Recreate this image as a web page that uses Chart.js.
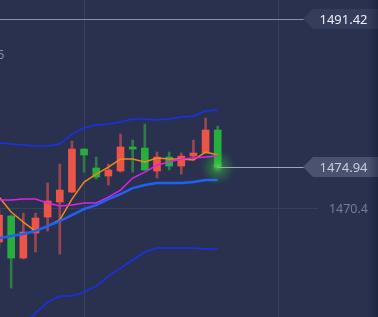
<!DOCTYPE html>
<html>
<head>
<meta charset="utf-8">
<script src="https://cdn.jsdelivr.net/npm/chart.js@4.4.1/dist/chart.umd.min.js"></script>
<style>
  html, body { margin: 0; padding: 0; background: #2a314f; }
  #wrap { width: 378px; height: 317px; position: relative; }
</style>
</head>
<body>
<div id="wrap"><canvas id="kline"></canvas></div>
<script>
//candle slots (x position index)
const idx = [0, 1, 2, 3, 4, 5, 6, 7, 8, 9, 10, 11, 12, 13, 14, 15, 16, 17, 18];
//ohlc
const opens  = [1466.62, 1469.51, 1464.84, 1467.62, 1469.40, 1471.07, 1472.18, 1476.96, 1474.85, 1473.96, 1474.52, 1477.19, 1477.07, 1474.52, 1476.07, 1475.07, 1476.18, 1476.52, 1479.08];
const highs  = [1470.18, 1469.60, 1469.84, 1469.84, 1473.18, 1475.29, 1477.85, 1477.00, 1476.07, 1475.29, 1478.63, 1477.96, 1479.74, 1476.63, 1476.63, 1476.52, 1477.96, 1480.41, 1479.52];
const lows   = [1465.95, 1461.50, 1464.73, 1465.51, 1467.84, 1465.28, 1472.10, 1474.40, 1473.63, 1472.96, 1474.40, 1474.40, 1474.60, 1473.74, 1474.63, 1474.18, 1475.74, 1476.50, 1474.94];
const closes = [1469.62, 1464.84, 1467.73, 1469.29, 1471.18, 1472.40, 1476.96, 1476.30, 1473.85, 1474.63, 1477.19, 1476.96, 1474.63, 1476.07, 1475.07, 1476.18, 1476.52, 1479.08, 1474.94];
//indicator lines
const bollUpper = [1477.63, 1477.52, 1477.41, 1477.30, 1477.30, 1477.52, 1478.63, 1479.30, 1479.63, 1479.74, 1479.97, 1480.30, 1480.30, 1480.19, 1480.30, 1480.52, 1480.63, 1481.19, 1481.30];
const bollMid   = [1467.06, 1467.29, 1467.51, 1467.84, 1468.40, 1468.95, 1469.62, 1470.29, 1470.73, 1471.40, 1471.96, 1472.62, 1472.96, 1473.18, 1473.18, 1473.18, 1473.29, 1473.51, 1473.51];
const bollLower = [1455.16, 1456.39, 1457.50, 1458.72, 1459.94, 1460.61, 1460.61, 1461.06, 1461.72, 1462.84, 1463.73, 1464.62, 1465.51, 1465.95, 1465.95, 1465.95, 1465.95, 1465.84, 1465.84];
const maFast    = [1471.62, 1469.96, 1468.84, 1467.84, 1468.40, 1469.07, 1471.40, 1473.29, 1474.18, 1474.96, 1475.85, 1475.85, 1475.52, 1475.96, 1475.85, 1475.85, 1475.74, 1476.63, 1476.30];
const maSlow    = [1471.29, 1471.29, 1471.40, 1471.40, 1470.96, 1470.62, 1470.73, 1470.96, 1470.96, 1471.62, 1472.40, 1473.74, 1474.40, 1475.18, 1475.52, 1475.85, 1475.96, 1476.07, 1476.18];

//labels and reference prices
const highPrice = 1491.42;
const lastPrice = 1474.94;
const gridPrice = 1470.4;
const leftPrice = 1487.45;
const gridCols = [7, 23];

const UP_BODY = '#ea5548';
const UP_WICK = '#9c4550';
const DOWN_BODY = '#27ae3c';
const DOWN_WICK = '#2f7a48';

const isUp = idx.map(i => closes[i] >= opens[i]);

const bodies = idx.map(i => ({x: i, y: [opens[i], closes[i]]}));
const wicks = idx.map(i => ({x: i, y: [lows[i], highs[i]]}));
const toPts = arr => idx.map(i => ({x: i, y: arr[i]}));

function lineSet(arr, color, width) {
  return {
    type: 'line',
    data: toPts(arr),
    borderColor: color,
    borderWidth: width,
    pointRadius: 0,
    tension: 0,
    order: 0
  };
}

function drawTag(ctx, py, text, fill, color) {
  ctx.beginPath();
  ctx.moveTo(303, py);
  ctx.lineTo(313, py - 10);
  ctx.lineTo(378, py - 10);
  ctx.lineTo(378, py + 10);
  ctx.lineTo(313, py + 10);
  ctx.closePath();
  ctx.fillStyle = fill;
  ctx.fill();
  ctx.fillStyle = color;
  ctx.font = '13px "Noto Sans"';
  ctx.textAlign = 'center';
  ctx.textBaseline = 'middle';
  ctx.fillText(text, 343.5, py + 1);
}

const overlay = {
  id: 'overlay',
  beforeDatasetsDraw(chart) {
    const ctx = chart.ctx;
    const x = chart.scales.x, y = chart.scales.y;
    ctx.save();
    ctx.strokeStyle = '#373e5e';
    ctx.lineWidth = 1;
    gridCols.forEach(c => {
      const px = Math.round(x.getPixelForValue(c)) + 0.5;
      ctx.beginPath(); ctx.moveTo(px, 0); ctx.lineTo(px, chart.height); ctx.stroke();
    });
    const gy = Math.round(y.getPixelForValue(gridPrice)) + 0.5;
    ctx.beginPath(); ctx.moveTo(0, gy); ctx.lineTo(318, gy); ctx.stroke();
    ctx.restore();
  },
  afterDatasetsDraw(chart) {
    const ctx = chart.ctx;
    const x = chart.scales.x, y = chart.scales.y;
    ctx.save();
    //glow on last candle
    const lx = x.getPixelForValue(idx[idx.length - 1]);
    const ly = y.getPixelForValue(lastPrice);
    const g = ctx.createRadialGradient(lx, ly, 0, lx, ly, 18);
    g.addColorStop(0, 'rgba(90,230,80,0.75)');
    g.addColorStop(0.35, 'rgba(60,200,60,0.35)');
    g.addColorStop(1, 'rgba(40,160,60,0)');
    ctx.fillStyle = g;
    ctx.fillRect(lx - 19, ly - 19, 38, 38);

    //price lines
    ctx.strokeStyle = '#8a90aa';
    ctx.lineWidth = 1;
    const hy = Math.round(y.getPixelForValue(highPrice)) + 0.5;
    ctx.beginPath(); ctx.moveTo(0, hy); ctx.lineTo(304, hy); ctx.stroke();
    const py = Math.round(ly) + 0.5;
    ctx.strokeStyle = '#9ea3b8';
    ctx.beginPath(); ctx.moveTo(lx, py); ctx.lineTo(304, py); ctx.stroke();

    drawTag(ctx, hy - 0.5, highPrice.toFixed(2), '#363d5a', '#eceef4');
    drawTag(ctx, py - 0.5, lastPrice.toFixed(2), '#4b526f', '#c9ccd9');

    //axis text
    ctx.font = '12.5px "Noto Sans"';
    ctx.textBaseline = 'middle';
    ctx.fillStyle = '#757c96';
    ctx.textAlign = 'right';
    ctx.fillText(gridPrice.toFixed(1), 368, y.getPixelForValue(gridPrice) + 1);
    ctx.fillStyle = '#8a90a8';
    ctx.fillText(leftPrice.toFixed(2), 4.5, y.getPixelForValue(leftPrice) + 1);

    //right edge shade
    const sh = ctx.createLinearGradient(368, 0, 378, 0);
    sh.addColorStop(0, 'rgba(15,18,35,0)');
    sh.addColorStop(1, 'rgba(15,18,35,0.35)');
    ctx.fillStyle = sh;
    ctx.fillRect(368, 0, 10, chart.height);
    ctx.restore();
  }
};

new Chart(document.getElementById('kline'), {
  type: 'bar',
  data: {
    datasets: [
      lineSet(bollUpper, '#1a30ee', 1.5),
      lineSet(bollLower, '#1a30ee', 1.5),
      lineSet(bollMid, '#2160f4', 2.5),
      lineSet(maSlow, '#dd22e6', 1.5),
      lineSet(maFast, '#f0861e', 1.5),
      {
        data: bodies,
        backgroundColor: idx.map(i => isUp[i] ? UP_BODY : DOWN_BODY),
        barThickness: 7,
        grouped: false,
        order: 1
      },
      {
        data: wicks,
        backgroundColor: idx.map(i => isUp[i] ? UP_WICK : DOWN_WICK),
        barThickness: 2,
        grouped: false,
        order: 2
      }
    ]
  },
  options: {
    responsive: true,
    maintainAspectRatio: false,
    animation: false,
    events: [],
    layout: { padding: 0 },
    plugins: { legend: { display: false }, tooltip: { enabled: false } },
    scales: {
      x: { type: 'linear', min: 0.08, max: 31.19, offset: false, display: false },
      y: { type: 'linear', min: 1458.28, max: 1493.54, display: false }
    }
  },
  plugins: [overlay]
});
</script>
</body>
</html>
